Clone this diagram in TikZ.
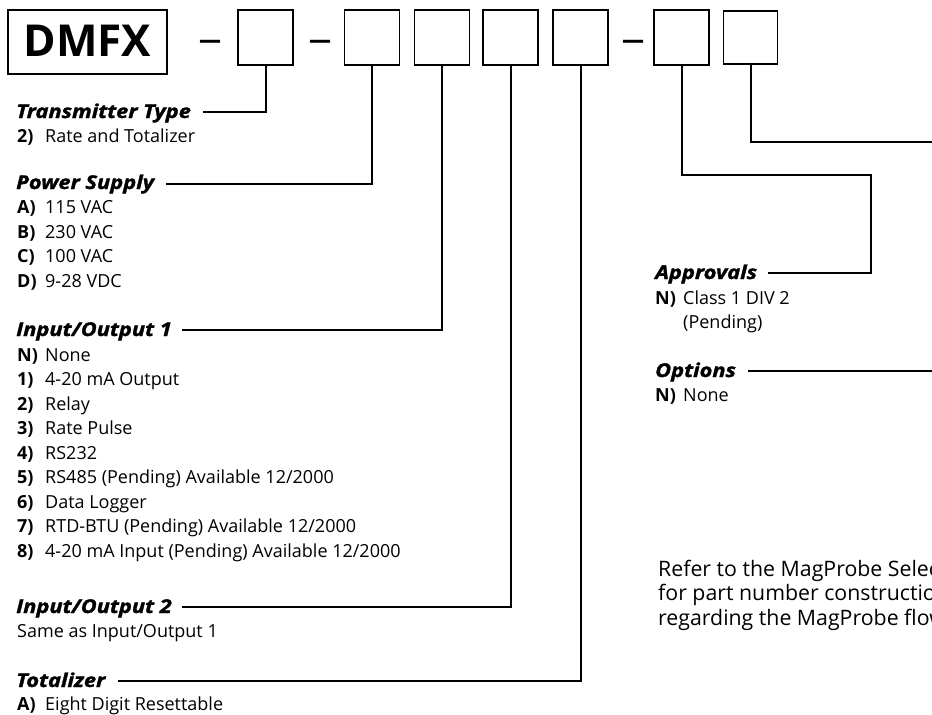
\documentclass[tikz,border=0pt]{standalone}
\usepackage{fontspec}
\setmainfont{Open Sans}
\newfontfamily\headfont{Open Sans}[FakeStretch=1.15,FakeBold=1.6]
\newcommand{\itemlab}[1]{\makebox[28pt][l]{\bfseries #1}}
\begin{document}
\begin{tikzpicture}[x=1pt,y=-1pt,
  codebox/.style={draw=black, line width=1.5pt, minimum width=55pt, minimum height=55pt, inner sep=0pt, anchor=center},
  dashtxt/.style={anchor=north, inner sep=0pt, font=\fontsize{40}{40}\selectfont},
  itemtxt/.style={anchor=base west, inner sep=0pt, font=\fontsize{18}{20}\selectfont},
  headtxt/.style={anchor=base west, inner sep=0pt, font=\fontsize{19}{20}\headfont\bfseries\itshape},
  refertxt/.style={anchor=base west, inner sep=0pt, font=\fontsize{21.3}{24}\selectfont},
  conn/.style={line width=2pt}]
\useasboundingbox (0,0) rectangle (932,715);
\clip (0,0) rectangle (932,715);
% part number boxes
\node[draw=black, line width=1.5pt, minimum width=159pt, minimum height=64pt, inner sep=0pt, font=\fontsize{44}{44}\selectfont\bfseries] (dmfx) at (87.5,42) {\raisebox{2pt}{DMFX}};
\node[dashtxt] (d1) at (210,40) {\scalebox{1.2}[1]{–}};
\node[codebox] (b1) at (265.5,37.5) {};
\node[dashtxt] (d2) at (320,40) {\scalebox{1.2}[1]{–}};
\node[codebox] (b2) at (372,37.5) {};
\node[codebox] (b3) at (442,37.5) {};
\node[codebox] (b4) at (510.5,37.5) {};
\node[codebox] (b5) at (580.5,37.5) {};
\node[dashtxt] (d3) at (633.5,40) {\scalebox{1.2}[1]{–}};
\node[codebox] (b6) at (681.5,37.5) {};
\node[codebox, minimum width=54pt, minimum height=53pt] (b7) at (750.5,37.5) {};
% Transmitter type
\node[headtxt] (tt) at (16,118) {Transmitter Type};
\node[itemtxt] (tt1) at (17,142) {\itemlab{2)}Rate and Totalizer};
% Power supply
\node[headtxt] (ps) at (16,189) {Power Supply};
\node[itemtxt] (ps1) at (17,213.5) {\itemlab{A)}115 VAC};
\node[itemtxt] (ps2) at (17,238) {\itemlab{B)}230 VAC};
\node[itemtxt] (ps3) at (17,262.5) {\itemlab{C)}100 VAC};
\node[itemtxt] (ps4) at (17,287) {\itemlab{D)}9-28 VDC};
% Input/Output 1
\node[headtxt] (ioa) at (16,336) {Input/Output 1};
\node[itemtxt] (ioa1) at (17,361) {\itemlab{N)}None};
\node[itemtxt] (ioa2) at (17,385.5) {\itemlab{1)}4-20 mA Output};
\node[itemtxt] (ioa3) at (17,410) {\itemlab{2)}Relay};
\node[itemtxt] (ioa4) at (17,434.5) {\itemlab{3)}Rate Pulse};
\node[itemtxt] (ioa5) at (17,459) {\itemlab{4)}RS232};
\node[itemtxt] (ioa6) at (17,483.5) {\itemlab{5)}RS485 (Pending) Available 12/2000};
\node[itemtxt] (ioa7) at (17,508) {\itemlab{6)}Data Logger};
\node[itemtxt] (ioa8) at (17,532.5) {\itemlab{7)}RTD-BTU (Pending) Available 12/2000};
\node[itemtxt] (ioa9) at (17,557) {\itemlab{8)}4-20 mA Input (Pending) Available 12/2000};
% Input/Output 2
\node[headtxt] (iob) at (16,613) {Input/Output 2};
\node[itemtxt] (iob1) at (17,637.5) {Same as Input/Output 1};
% Totalizer
\node[headtxt] (tot) at (16,687) {Totalizer};
\node[itemtxt] (tot1) at (17,710) {\itemlab{A)}Eight Digit Resettable};
% Approvals
\node[headtxt] (ap) at (655,279) {Approvals};
\node[itemtxt] (ap1) at (655,304) {\itemlab{N)}Class 1 DIV 2};
\node[itemtxt] (ap2) at (655,328.5) {\hspace*{28pt}(Pending)};
% Options
\node[headtxt] (op) at (655,377) {Options};
\node[itemtxt] (op1) at (655,401) {\itemlab{N)}None};
% Refer text
\node[refertxt] (rf1) at (658,576) {Refer to the MagProbe Selection};
\node[refertxt] (rf2) at (658,600.5) {for part number construction};
\node[refertxt] (rf3) at (658,625) {regarding the MagProbe flow};
% connector ends, just right of each heading
\coordinate (tt-c) at ([shift={(12,-6)}]tt.base east);
\coordinate (ps-c) at ([shift={(12,-5.5)}]ps.base east);
\coordinate (ioa-c) at ([shift={(10,-6)}]ioa.base east);
\coordinate (iob-c) at ([shift={(10,-6)}]iob.base east);
\coordinate (tot-c) at ([shift={(13,-6)}]tot.base east);
\coordinate (ap-c) at ([shift={(11,-6)}]ap.base east);
\coordinate (ap-k) at (871,175);
\coordinate (op-c) at ([shift={(12,-6)}]op.base east);
\coordinate (op-e) at (932,371);
\coordinate (b7-e) at (932,142);
% connectors
\draw[conn] (b1.south) |- (tt-c);
\draw[conn] (b2.south) |- (ps-c);
\draw[conn] (b3.south) |- (ioa-c);
\draw[conn] (b4.south) |- (iob-c);
\draw[conn] (b5.south) |- (tot-c);
\draw[conn] (b6.south) |- (ap-k) |- (ap-c);
\draw[conn] (b7.south) |- (b7-e);
\draw[conn] (op-c) -- (op-e |- op-c);
\end{tikzpicture}
\end{document}
